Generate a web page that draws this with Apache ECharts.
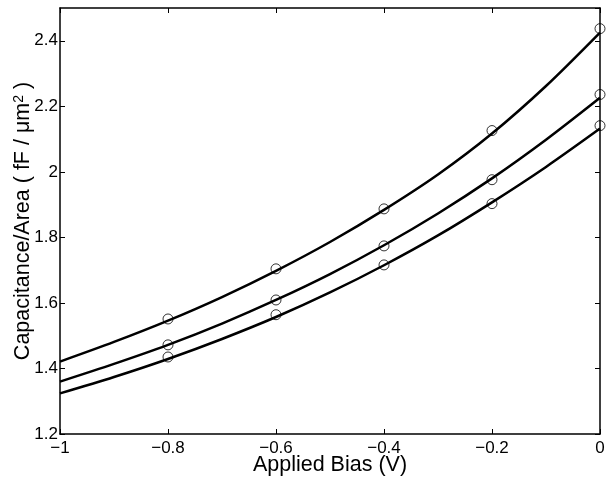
<!DOCTYPE html>
<html><head><meta charset="utf-8">
<script src="https://cdn.jsdelivr.net/npm/echarts@6/dist/echarts.min.js"></script>
<style>html,body{margin:0;padding:0;background:#fff}#c{width:607px;height:479px}</style>
</head><body><div id="c"></div>
<script>
const curveX = [-1, -0.9, -0.8, -0.7, -0.6, -0.5, -0.4, -0.3, -0.2, -0.1, 0];
const curveUpper = [1.421, 1.481, 1.546, 1.618, 1.698, 1.786, 1.884, 1.992, 2.117, 2.262, 2.425];
const curveMiddle = [1.360, 1.414, 1.472, 1.537, 1.609, 1.688, 1.776, 1.873, 1.980, 2.098, 2.226];
const curveLower = [1.324, 1.374, 1.429, 1.490, 1.557, 1.632, 1.715, 1.806, 1.907, 2.015, 2.132];
const pointX = [-0.8, -0.6, -0.4, -0.2, 0];
const pointsUpper = [1.551, 1.704, 1.887, 2.126, 2.437];
const pointsMiddle = [1.472, 1.609, 1.774, 1.976, 2.236];
const pointsLower = [1.435, 1.564, 1.716, 1.903, 2.141];
const xTitle = 'Applied Bias (V)';
const yTitle = 'Capacitance/Area ( fF / μm{s|2} )';

const font = 'Liberation Sans, Arial, Helvetica, sans-serif';
const pair = (xs, ys) => xs.map((x, i) => [x, ys[i]]);
const lineSeries = ys => ({type: 'line', data: pair(curveX, ys), smooth: 0.3, showSymbol: false,
  lineStyle: {color: '#000', width: 2.5}, z: 2});
const ptSeries = ys => ({type: 'scatter', data: pair(pointX, ys), symbol: 'circle', symbolSize: 10,
  itemStyle: {color: 'rgba(0,0,0,0)', borderColor: '#000', borderWidth: 1}, z: 3});
const axisCommon = {
  axisLine: {show: true, onZero: false, lineStyle: {color: '#000', width: 1.5}},
  axisTick: {show: true, inside: true, length: 5, lineStyle: {color: '#000', width: 1}},
  splitLine: {show: false}
};
const chart = echarts.init(document.getElementById('c'), null, {renderer: 'canvas'});
chart.setOption({
  animation: false,
  backgroundColor: '#fff',
  grid: {left: 60, top: 8, right: 7, bottom: 45, containLabel: false, outerBoundsMode: 'none'},
  xAxis: [
    Object.assign({type: 'value', min: -1, max: 0, interval: 0.2, position: 'bottom',
      name: xTitle, nameLocation: 'middle', nameGap: 20, nameMoveOverlap: false,
      nameTextStyle: {fontFamily: font, fontSize: 21.5, color: '#000'},
      axisLabel: {fontFamily: font, fontSize: 17, color: '#000', margin: 6,
        formatter: v => (Math.round(v * 10) / 10).toString().replace('-', '\u2212')}}, axisCommon),
    Object.assign({type: 'value', min: -1, max: 0, interval: 0.2, position: 'top',
      axisLabel: {show: false}}, axisCommon)
  ],
  yAxis: [
    Object.assign({type: 'value', min: 1.2, max: 2.5, interval: 0.2, position: 'left',
      name: yTitle, nameLocation: 'middle', nameGap: 26, nameMoveOverlap: false,
      nameTextStyle: {fontFamily: font, fontSize: 21.5, color: '#000',
        rich: {s: {fontFamily: font, fontSize: 14, color: '#000', verticalAlign: 'top'}}},
      axisLabel: {fontFamily: font, fontSize: 17, color: '#000', margin: 2,
        showMaxLabel: false,
        formatter: v => (Math.round(v * 10) / 10).toString()}}, axisCommon),
    Object.assign({type: 'value', min: 1.2, max: 2.5, interval: 0.2, position: 'right',
      axisLabel: {show: false}}, axisCommon)
  ],
  series: [
    lineSeries(curveUpper), lineSeries(curveMiddle), lineSeries(curveLower),
    ptSeries(pointsUpper), ptSeries(pointsMiddle), ptSeries(pointsLower)
  ]
});
</script></body></html>
